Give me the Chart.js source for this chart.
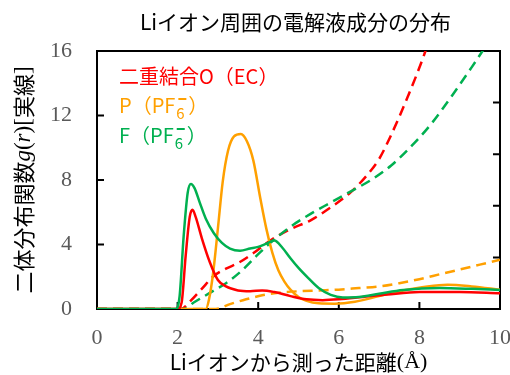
<!DOCTYPE html>
<html>
<head>
<meta charset="utf-8">
<script src="https://cdn.jsdelivr.net/npm/chart.js@4/dist/chart.umd.min.js"></script>
<style>
  html, body { margin: 0; padding: 0; background: #fff; }
  #wrap { width: 510px; height: 375px; }
</style>
</head>
<body>
<div id="wrap"><canvas id="myChart" width="510" height="375"></canvas></div>
<script>
// g(r) solid lines
const redX = [0, 2.0, 2.1, 2.2, 2.3, 2.37, 2.45, 2.6, 2.8, 3.0, 3.2, 3.5, 3.8, 4.1, 4.4, 4.8, 5.2, 5.6, 6.0, 6.6, 7.2, 8.0, 9.0, 10];
const redY = [0, 0, 0.4, 3.3, 5.7, 6.15, 5.7, 4.4, 2.9, 1.8, 1.4, 1.15, 1.1, 1.15, 1.05, 0.8, 0.6, 0.55, 0.6, 0.75, 0.9, 1.05, 1.05, 0.98];

const orangeX = [0, 2.7, 2.78, 2.88, 3.0, 3.12, 3.25, 3.4, 3.57, 3.72, 3.88, 4.05, 4.2, 4.35, 4.5, 4.65, 4.8, 5.0, 5.2, 5.5, 5.9, 6.4, 7.0, 7.6, 8.2, 8.7, 9.3, 10];
const orangeY = [0, 0, 0.6, 2.2, 5.0, 7.9, 9.8, 10.7, 10.85, 10.4, 9.2, 6.9, 5.0, 3.5, 2.4, 1.7, 1.2, 0.75, 0.5, 0.35, 0.33, 0.45, 0.8, 1.15, 1.4, 1.5, 1.4, 1.2];

const greenX = [0, 1.95, 2.05, 2.15, 2.25, 2.33, 2.42, 2.55, 2.7, 2.9, 3.1, 3.3, 3.55, 3.8, 4.0, 4.2, 4.4, 4.6, 4.8, 5.0, 5.25, 5.5, 5.8, 6.1, 6.5, 7.0, 7.6, 8.5, 9.3, 10];
const greenY = [0, 0, 0.8, 4.5, 7.2, 7.75, 7.5, 6.6, 5.6, 4.7, 4.1, 3.75, 3.62, 3.75, 3.85, 4.05, 4.25, 3.8, 3.15, 2.55, 1.9, 1.3, 0.88, 0.72, 0.75, 0.95, 1.18, 1.3, 1.25, 1.18];

// dashed lines
const redDashX = [0, 2.08, 2.3, 2.6, 2.9, 3.2, 3.5, 3.9, 4.3, 4.8, 5.3, 5.8, 6.3, 6.7, 7.0, 7.3, 7.7, 8.15, 8.3];
const redDashY = [0, 0, 0.45, 1.25, 2.05, 2.5, 2.85, 3.5, 4.25, 4.95, 5.5, 6.3, 7.25, 8.3, 9.3, 10.8, 13.1, 16, 17.2];

const greenDashX = [0, 2.15, 2.4, 2.8, 3.2, 3.6, 4.0, 4.3, 4.8, 5.3, 5.8, 6.3, 6.8, 7.3, 7.8, 8.3, 8.8, 9.3, 9.7];
const greenDashY = [0, 0, 0.4, 1.0, 1.6, 2.4, 3.4, 4.1, 5.1, 5.9, 6.6, 7.3, 8.0, 8.9, 10.1, 11.5, 13.2, 15.0, 16.5];

const orangeDashX = [0, 2.95, 3.3, 3.7, 4.1, 4.5, 5.0, 5.5, 6.0, 6.5, 7.0, 7.5, 8.0, 8.5, 9.0, 9.5, 10];
const orangeDashY = [0, 0, 0.3, 0.6, 0.85, 1.0, 1.1, 1.15, 1.2, 1.3, 1.4, 1.6, 1.85, 2.15, 2.45, 2.75, 3.05];

const xTicks = [0, 2, 4, 6, 8, 10];
const yTicks = [0, 4, 8, 12, 16];

const RED = '#ff0000';
const ORANGE = '#ffa000';
const GREEN = '#00b050';
const JP = "'Noto Sans CJK JP', sans-serif";
const SERIF = "'Liberation Serif', serif";

function pts(xs, ys) {
  return xs.map((x, i) => ({ x: x, y: ys[i] }));
}

function line(label, xs, ys, color, dashed) {
  return {
    label: label,
    data: pts(xs, ys),
    borderColor: color,
    borderWidth: 2.5,
    borderDash: dashed ? [10, 6] : [],
    pointRadius: 0,
    fill: false,
    tension: 0.4,
    cubicInterpolationMode: 'monotone'
  };
}

// frame, inward ticks, titles and the legend texts
const decor = {
  id: 'decor',
  beforeDatasetsDraw(chart) {
    const { ctx, chartArea: a, scales } = chart;
    ctx.save();
    ctx.strokeStyle = '#000';
    ctx.lineWidth = 2;
    ctx.strokeRect(a.left, a.top, a.right - a.left, a.bottom - a.top);
    ctx.beginPath();
    [2, 4, 6, 8].forEach(v => {
      const px = scales.x.getPixelForValue(v);
      ctx.moveTo(px, a.bottom); ctx.lineTo(px, a.bottom - 7);
    });
    [4, 8, 12].forEach(v => {
      const py = scales.y.getPixelForValue(v);
      ctx.moveTo(a.left, py); ctx.lineTo(a.left + 7, py);
    });
    for (let i = 1; i < 5; i++) {
      const py = a.bottom - (a.bottom - a.top) * i / 5;
      ctx.moveTo(a.right, py); ctx.lineTo(a.right - 7, py);
    }
    ctx.stroke();
    ctx.restore();
  },
  afterDraw(chart) {
    const { ctx, chartArea: a } = chart;
    const cx = (a.left + a.right) / 2;
    ctx.save();
    ctx.fillStyle = '#000';
    ctx.textBaseline = 'middle';

    // title
    ctx.font = '21px ' + JP;
    ctx.textAlign = 'center';
    ctx.fillText('Liイオン周囲の電解液成分の分布', cx - 3, 22);

    // x title
    drawRun(ctx, [
      ['Liイオンから測った距離', '21px ' + JP],
      ['(Å)', '22px ' + SERIF]
    ], cx, 362, '#000');

    // y title (rotated)
    ctx.save();
    ctx.translate(24, (a.top + a.bottom) / 2);
    ctx.rotate(-Math.PI / 2);
    drawRun(ctx, [
      ['二体分布関数', '22px ' + JP],
      ['g', 'italic 23px ' + SERIF],
      ['(', '23px ' + SERIF],
      ['r', 'italic 23px ' + SERIF],
      [')', '23px ' + SERIF],
      ['[', '23px ' + SERIF],
      ['実線', '22px ' + JP],
      [']', '23px ' + SERIF]
    ], 0, 0, '#000');
    ctx.restore();

    // legend texts
    ctx.textAlign = 'left';
    ctx.font = '20px ' + JP;
    ctx.fillStyle = RED;
    ctx.fillText('二重結合O（EC）', 119, 76);
    pfLabel(ctx, 'P', ORANGE, 119, 105);
    pfLabel(ctx, 'F', GREEN, 119, 135);
    ctx.restore();
  }
};

function drawRun(ctx, parts, cx, cy, color) {
  ctx.save();
  ctx.textAlign = 'left';
  ctx.textBaseline = 'middle';
  ctx.fillStyle = color;
  let total = 0;
  parts.forEach(p => { ctx.font = p[1]; total += ctx.measureText(p[0]).width; });
  let x = cx - total / 2;
  parts.forEach(p => {
    ctx.font = p[1];
    ctx.fillText(p[0], x, cy);
    x += ctx.measureText(p[0]).width;
  });
  ctx.restore();
}

function pfLabel(ctx, atom, color, x, y) {
  ctx.fillStyle = color;
  ctx.font = '20px ' + JP;
  const head = atom + '（PF';
  ctx.fillText(head, x, y);
  let px = x + ctx.measureText(head).width;
  ctx.font = '15px ' + JP;
  ctx.fillText('6', px + 1, y + 8);
  ctx.fillRect(px + 3, y - 7, 8, 2);
  px += 13;
  ctx.font = '20px ' + JP;
  ctx.fillText('）', px, y);
}

const ctx = document.getElementById('myChart');

new Chart(ctx, {
  type: 'line',
  data: {
    datasets: [
      line('F(PF6-)', greenX, greenY, GREEN, false),
      line('O(EC)', redX, redY, RED, false),
      line('P(PF6-)', orangeX, orangeY, ORANGE, false),
      line('F(PF6-) dash', greenDashX, greenDashY, GREEN, true),
      line('O(EC) dash', redDashX, redDashY, RED, true),
      line('P(PF6-) dash', orangeDashX, orangeDashY, ORANGE, true)
    ]
  },
  options: {
    responsive: false,
    animation: false,
    layout: { padding: { top: 51, right: 10, left: 0, bottom: 0 } },
    plugins: {
      legend: { display: false },
      tooltip: { enabled: false },
      title: { display: false }
    },
    scales: {
      x: {
        type: 'linear',
        min: 0,
        max: 10,
        afterFit(scale) {
          scale.height = 66;
          scale.paddingLeft = 0;
          scale.paddingRight = 0;
        },
        afterBuildTicks(scale) { scale.ticks = xTicks.map(v => ({ value: v })); },
        grid: { display: false, drawTicks: false },
        border: { display: false },
        ticks: {
          padding: 16,
          color: '#595959',
          font: { family: 'Liberation Serif', size: 22 },
          maxRotation: 0
        }
      },
      y: {
        type: 'linear',
        min: 0,
        max: 16,
        afterFit(scale) { scale.width = 97; },
        afterBuildTicks(scale) { scale.ticks = yTicks.map(v => ({ value: v })); },
        grid: { display: false, drawTicks: false },
        border: { display: false },
        ticks: {
          padding: 25,
          color: '#595959',
          font: { family: 'Liberation Serif', size: 22 }
        }
      }
    }
  },
  plugins: [decor]
});
</script>
</body>
</html>
